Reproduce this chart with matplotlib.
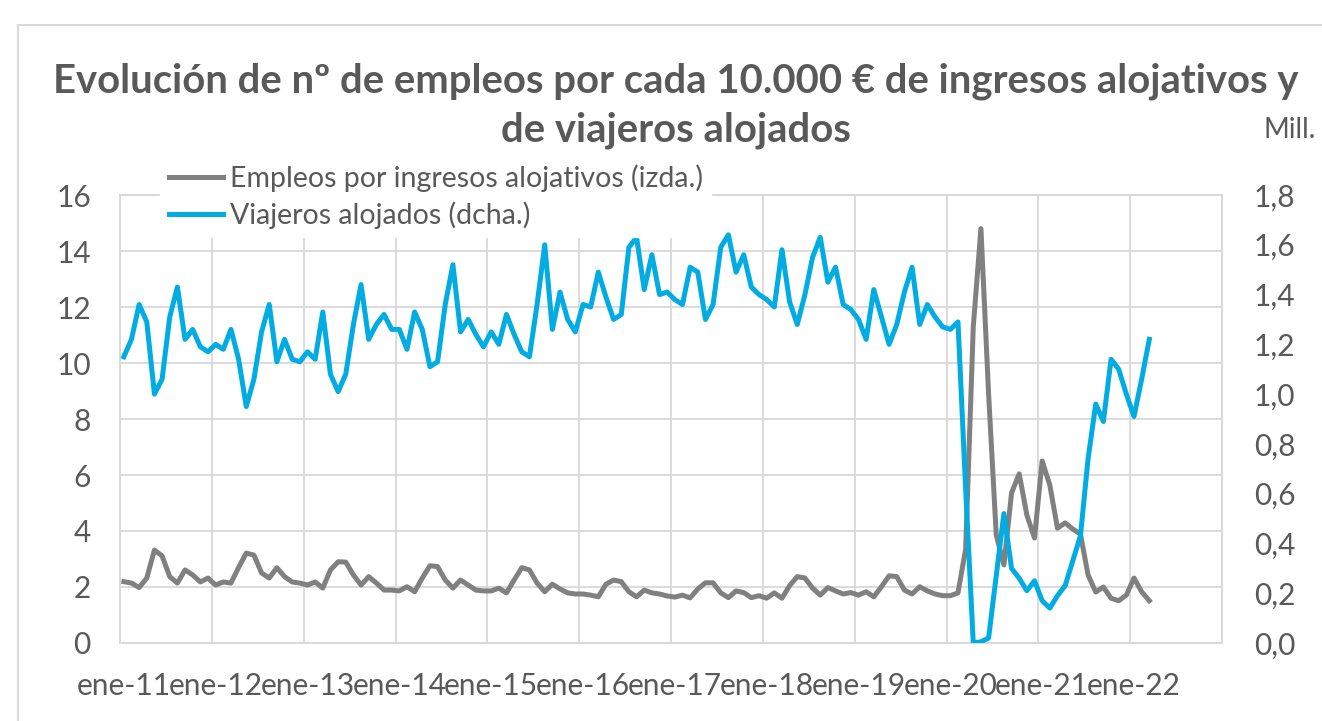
import matplotlib
matplotlib.use('Agg')
import matplotlib.pyplot as plt
from matplotlib.patches import Rectangle

plt.rcParams['font.family'] = ['Lato', 'DejaVu Sans']

# datos mensuales ene-11 .. mar-22
meses_abr = ['ene', 'feb', 'mar', 'abr', 'may', 'jun', 'jul', 'ago', 'sep', 'oct', 'nov', 'dic']
meses = [f'{m}-{a}' for a in range(11, 23) for m in meses_abr][:135]

empleos = [2.19, 2.14, 1.98, 2.32, 3.32, 3.11, 2.37, 2.14, 2.61, 2.43, 2.18, 2.32,
           2.07, 2.18, 2.14, 2.70, 3.21, 3.14, 2.50, 2.32, 2.69, 2.37, 2.18, 2.14,
           2.07, 2.18, 1.96, 2.61, 2.90, 2.89, 2.43, 2.07, 2.37, 2.14, 1.89, 1.89,
           1.86, 2.01, 1.83, 2.32, 2.76, 2.73, 2.25, 1.96, 2.25, 2.07, 1.89, 1.86,
           1.86, 1.96, 1.79, 2.25, 2.69, 2.61, 2.14, 1.83, 2.10, 1.93, 1.79, 1.75,
           1.75, 1.71, 1.65, 2.10, 2.25, 2.19, 1.83, 1.65, 1.89, 1.79, 1.75, 1.68,
           1.64, 1.71, 1.61, 1.93, 2.15, 2.15, 1.79, 1.62, 1.86, 1.80, 1.62, 1.69,
           1.60, 1.79, 1.60, 2.05, 2.37, 2.32, 1.96, 1.71, 1.98, 1.86, 1.75, 1.80,
           1.71, 1.83, 1.65, 2.01, 2.40, 2.37, 1.89, 1.75, 2.01, 1.86, 1.75, 1.69,
           1.69, 1.79, 3.35, 11.3, 14.8, 8.9, 3.86, 2.79, 5.36, 6.04, 4.57, 3.75,
           6.50, 5.64, 4.10, 4.29, 4.07, 3.89, 2.43, 1.82, 2.00, 1.60, 1.51, 1.71,
           2.32, 1.83, 1.51]

viajeros = [1.15, 1.22, 1.36, 1.29, 1.00, 1.06, 1.31, 1.43, 1.22, 1.26, 1.19, 1.17,
            1.20, 1.18, 1.26, 1.14, 0.95, 1.06, 1.25, 1.36, 1.13, 1.22, 1.14, 1.13,
            1.17, 1.14, 1.33, 1.08, 1.01, 1.08, 1.28, 1.44, 1.22, 1.28, 1.32, 1.26,
            1.26, 1.18, 1.33, 1.26, 1.11, 1.13, 1.36, 1.52, 1.25, 1.30, 1.24, 1.19,
            1.25, 1.20, 1.32, 1.24, 1.17, 1.15, 1.36, 1.60, 1.26, 1.41, 1.30, 1.25,
            1.36, 1.35, 1.49, 1.39, 1.30, 1.32, 1.59, 1.63, 1.42, 1.56, 1.40, 1.41,
            1.38, 1.36, 1.51, 1.49, 1.30, 1.36, 1.59, 1.64, 1.49, 1.56, 1.43, 1.40,
            1.38, 1.35, 1.58, 1.37, 1.28, 1.40, 1.55, 1.63, 1.45, 1.51, 1.36, 1.34,
            1.30, 1.22, 1.42, 1.31, 1.20, 1.28, 1.41, 1.51, 1.28, 1.36, 1.31, 1.27,
            1.26, 1.29, 0.62, 0.00, 0.005, 0.02, 0.27, 0.52, 0.30, 0.26, 0.21, 0.25,
            0.17, 0.14, 0.19, 0.23, 0.33, 0.43, 0.74, 0.96, 0.89, 1.14, 1.10, 1.00,
            0.91, 1.06, 1.22]

gris = '#808080'
azul = '#00ACE2'
texto = '#595959'
rejilla = '#D9D9D9'

fig = plt.figure(figsize=(13.22, 7.21), dpi=100)
ax = fig.add_axes([120 / 1322, 1 - 643 / 721, 1102 / 1322, 448 / 721])
ax2 = ax.twinx()

x = list(range(len(meses)))
l1, = ax.plot(x, empleos, color=gris, lw=3.6, solid_joinstyle='round', zorder=3)
l2, = ax2.plot(x, viajeros, color=azul, lw=3.6, solid_joinstyle='round', zorder=3)

ax.set_xlim(-0.5, 143.5)
ax.set_ylim(0, 16)
ax2.set_ylim(0, 1.8)

ax.set_yticks(range(0, 17, 2))
ax2.set_yticks([i * 0.2 for i in range(10)])
ax2.set_yticklabels([f'{i * 0.2:.1f}'.replace('.', ',') for i in range(10)])

ax.set_xticks(x[::12])
ax.set_xticklabels(meses[::12])
ax.set_xticks([i - 0.5 for i in range(0, 145, 12)], minor=True)

ax.grid(True, axis='y', color=rejilla, lw=1.3)
ax.grid(True, axis='x', which='minor', color=rejilla, lw=1.3)
ax.set_axisbelow(True)

for a in (ax, ax2):
    for s in a.spines.values():
        s.set_color(rejilla)
        s.set_linewidth(1.3)
    a.tick_params(which='both', length=0, labelsize=21.5, labelcolor=texto)
ax.tick_params(axis='x', pad=21)
ax.tick_params(axis='y', pad=21)
ax2.tick_params(axis='y', pad=23)

# el eje derecho encima para que la linea azul tape la gris como en el original
ax.set_zorder(1)
ax.patch.set_visible(False)
ax2.set_zorder(2)
ax2.patch.set_visible(False)

leg = fig.legend([l1, l2], ['Empleos por ingresos alojativos (izda.)', 'Viajeros alojados (dcha.)'],
                 loc='upper left', bbox_to_anchor=(160 / 1322, 1 - 156 / 721), fontsize=20.5,
                 frameon=True, framealpha=1, edgecolor='white', facecolor='white',
                 handlelength=1.9, handletextpad=0.25, labelspacing=0.32, borderpad=0.3,
                 borderaxespad=0, fancybox=False)
for t in leg.get_texts():
    t.set_color(texto)
leg.set_zorder(5)

# titulo en dos lineas separadas
fig.text(676 / 1322, 1 - 81 / 721, 'Evolución de nº de empleos por cada 10.000 € de ingresos alojativos y',
         ha='center', va='center', fontsize=28.8, fontweight='bold', color=texto)
fig.text(676 / 1322, 1 - 130 / 721, 'de viajeros alojados',
         ha='center', va='center', fontsize=28.8, fontweight='bold', color=texto)
fig.text(1290 / 1322, 1 - 130 / 721, 'Mill.', ha='center', va='center', fontsize=20, color=texto)

fig.patches.append(Rectangle((18 / 1322, -0.1), 1.2, 1.1 - 25 / 721, transform=fig.transFigure,
                             fill=False, edgecolor=rejilla, lw=1.5))

plt.savefig('out.png', dpi=100)
